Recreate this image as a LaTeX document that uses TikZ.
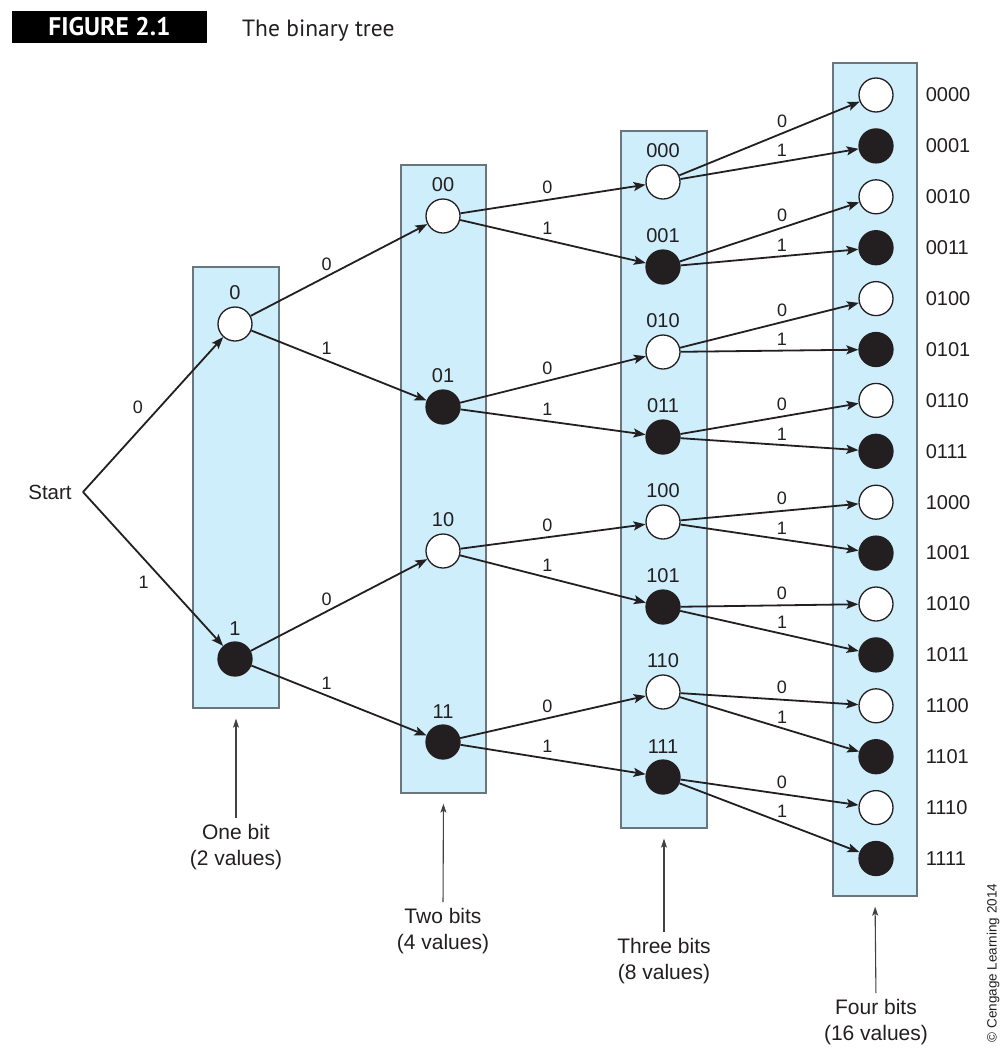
\documentclass[tikz,border=0pt]{standalone}
\usepackage{fontspec}
\setmainfont{Liberation Sans}
\newfontfamily\titlefont{PT Sans}
\usetikzlibrary{arrows.meta}
\definecolor{ink}{HTML}{231F20}
\definecolor{boxblue}{RGB}{206,238,251}
\definecolor{boxline}{RGB}{105,118,124}
\begin{document}
\begin{tikzpicture}[x=1pt,y=-1pt,
  bitbox/.style={draw=boxline, fill=boxblue, line width=1.3pt, inner sep=0pt},
  zero/.style={circle, draw=ink, fill=white, line width=1.3pt, minimum size=34pt, inner sep=0pt},
  one/.style={circle, draw=ink, fill=ink, line width=1.3pt, minimum size=34pt, inner sep=0pt},
  edge/.style={draw=ink, line width=1.8pt, -{Stealth[length=12pt,width=9pt,inset=2.5pt]}},
  codelbl/.style={font=\fontsize{20}{22}\selectfont, text=ink, inner sep=1pt},
  bitlbl/.style={font=\fontsize{18}{20}\selectfont, text=ink, inner sep=1pt},
  caption/.style={font=\fontsize{21}{26}\selectfont, text=ink, align=center, inner sep=0pt, anchor=north},
  pointer/.style={draw=ink!85, line width=1.1pt, -{Stealth[length=9pt,width=6pt,inset=2pt]}, shorten <=6pt, shorten >=10pt}
]
\useasboundingbox[fill=white] (0,0) rectangle (1005,1050);

% title
\node[fill=black, minimum width=195pt, minimum height=32pt, inner sep=0pt, text=white,
      font=\titlefont\bfseries\fontsize{25.5}{27}\selectfont] (fig) at (109.5,27) {FIGURE 2.1};
\node[anchor=base west, inner sep=0pt, text=ink, font=\titlefont\fontsize{23.5}{25}\selectfont] (ttl) at (242,36) {The binary tree};

% boxes
\node[bitbox, minimum width=86pt, minimum height=441pt] (b1) at (236,487.5) {};
\node[bitbox, minimum width=85pt, minimum height=628pt] (b2) at (443.5,479) {};
\node[bitbox, minimum width=86pt, minimum height=697pt] (b3) at (664,479.5) {};
\node[bitbox, minimum width=84pt, minimum height=833pt] (b4) at (875,479.5) {};

% start
\node[font=\fontsize{20.5}{22}\selectfont, text=ink, inner sep=0pt] (start) at (50,492) {Start};
\coordinate (st) at (83,492);

% level 1
\node[zero, label={[codelbl,label distance=5pt]above:0}] (n0) at (235,324) {};
\node[one,  label={[codelbl,label distance=5pt]above:1}] (n1) at (235,659) {};

% level 2
\foreach \c/\y/\s in {00/216/zero, 01/407/one, 10/551/zero, 11/742/one}
  \node[\s, label={[codelbl,label distance=5pt]above:\c}] (n\c) at (443,\y) {};

% level 3
\foreach \c/\y/\s in {000/182/zero, 001/267/one, 010/352/zero, 011/437/one,
                      100/522/zero, 101/607/one, 110/692/zero, 111/777/one}
  \node[\s, label={[codelbl,label distance=5pt]above:\c}] (n\c) at (663,\y) {};

% level 4
\foreach \c/\y/\s in {0000/95/zero, 0001/145.9/one, 0010/196.8/zero, 0011/247.7/one,
                      0100/298.6/zero, 0101/349.5/one, 0110/400.4/zero, 0111/451.3/one,
                      1000/502.2/zero, 1001/553.1/one, 1010/604/zero, 1011/654.9/one,
                      1100/705.8/zero, 1101/756.7/one, 1110/807.6/zero, 1111/858.5/one}
  \node[\s, label={[codelbl,label distance=31pt]right:\c}] (n\c) at (876,\y) {};

% edges from start
\draw[edge] (st) -- node[bitlbl, pos=0.47, above left=4pt] (es0) {0} (n0);
\draw[edge] (st) -- node[bitlbl, pos=0.51, below left=4pt] (es1) {1} (n1);

% level 1 -> 2
\foreach \p in {0,1} {
  \draw[edge] (n\p) -- node[bitlbl, pos=0.43, above=4pt] (e\p0) {0} (n\p0);
  \draw[edge] (n\p) -- node[bitlbl, pos=0.43, above=4pt] (e\p1) {1} (n\p1);
}
% level 2 -> 3
\foreach \p in {00,01,10,11} {
  \draw[edge] (n\p) -- node[bitlbl, pos=0.47, above=4pt] (e\p0) {0} (n\p0);
  \draw[edge] (n\p) -- node[bitlbl, pos=0.47, above=4pt] (e\p1) {1} (n\p1);
}
% level 3 -> 4
\foreach \p in {000,001,010,011,100,101,110,111} {
  \draw[edge] (n\p) -- node[bitlbl, pos=0.57, above=4pt] (e\p0) {0} (n\p0);
  \draw[edge] (n\p) -- node[bitlbl, pos=0.57, above=3pt] (e\p1) {1} (n\p1);
}

% captions
\node[caption] (c1) at (236,824) {One bit\\(2 values)};
\node[caption] (c2) at (443,908) {Two bits\\(4 values)};
\node[caption] (c3) at (664,938) {Three bits\\(8 values)};
\node[caption] (c4) at (876,999) {Four bits\\(16 values)};
\draw[pointer] (c1.north) -- (b1.south);
\draw[pointer] (c2.north) -- (b2.south);
\draw[pointer] (c3.north) -- (b3.south);
\draw[pointer] (c4.north) -- (b4.south);

% copyright
\node[rotate=90, font=\fontsize{13.5}{15}\selectfont, text=ink, inner sep=0pt] (copy) at (993,963) {© Cengage Learning 2014};
\end{tikzpicture}
\end{document}
